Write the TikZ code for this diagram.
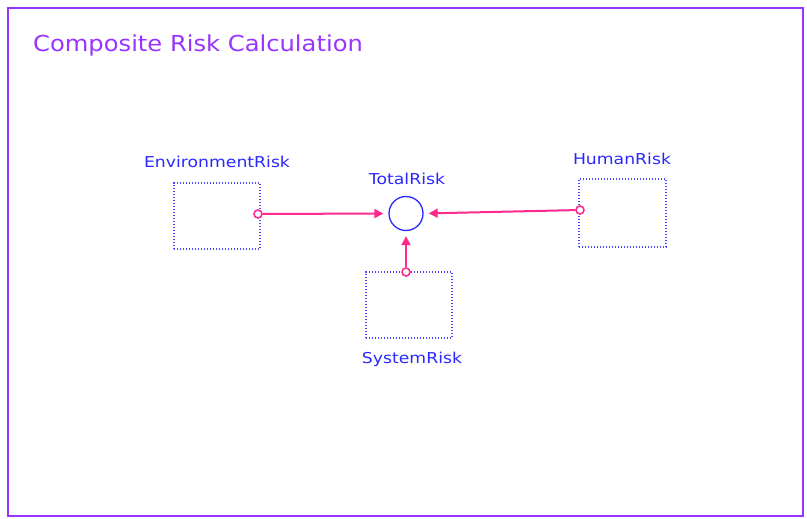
\documentclass[tikz,border=0pt]{standalone}
\usepackage{fontspec}
\setmainfont{DejaVu Sans}
\usetikzlibrary{arrows.meta}
\definecolor{frameC}{RGB}{153,51,255}
\definecolor{txtC}{RGB}{40,40,255}
\definecolor{boxC}{RGB}{70,70,255}
\definecolor{linkC}{RGB}{255,40,140}
\newcommand{\wideL}[1]{\scalebox{1.15}[1]{#1}}
\newcommand{\wideT}[1]{\scalebox{1.1}[1]{#1}}
\begin{document}
\begin{tikzpicture}[x=1pt,y=-1pt,
  stockbox/.style={draw=boxC, line width=1.4pt, dash pattern=on 1.4pt off 1.6pt, minimum width=86pt, minimum height=66pt, inner sep=0pt},
  lbl/.style={text=txtC, font=\fontsize{15}{17}\selectfont, inner sep=0pt},
  src/.style={circle, draw=linkC, fill=white, line width=1.6pt, minimum size=8pt, inner sep=0pt},
  conn/.style={draw=linkC, line width=2pt, -{Triangle[length=9pt,width=9pt]}, shorten >=5pt},
  aux/.style={circle, draw=txtC, line width=1.3pt, minimum size=34pt, inner sep=0pt}]
\useasboundingbox (0,0) rectangle (807,519);
\node[draw=frameC, line width=2pt, minimum width=795pt, minimum height=508pt, inner sep=0pt] (frame) at (405.5,262) {};
\node[anchor=west, text=frameC, font=\fontsize{22}{24}\selectfont, inner sep=0pt] (title) at (33,45) {\wideT{Composite Risk Calculation}};
\node[stockbox] (env) at (217,216) {};
\node[stockbox, minimum width=87pt, minimum height=68pt] (hum) at (622.5,213) {};
\node[stockbox] (sys) at (409,305) {};
\node[aux] (total) at (406,213.5) {};
\node[lbl] (envl) at (217,162) {\wideL{EnvironmentRisk}};
\node[lbl] (huml) at (622,159) {\wideL{HumanRisk}};
\node[lbl] (sysl) at (412,359) {\wideL{SystemRisk}};
\node[lbl] (totall) at (407,179) {\wideL{TotalRisk}};
\node[src] (envp) at (258,214) {};
\node[src] (hump) at (580,210) {};
\node[src] (sysp) at (406,272) {};
\draw[conn] (envp) -- (total.west);
\draw[conn] (hump) -- (total.east);
\draw[conn] (sysp) -- (total.south);
\end{tikzpicture}
\end{document}
